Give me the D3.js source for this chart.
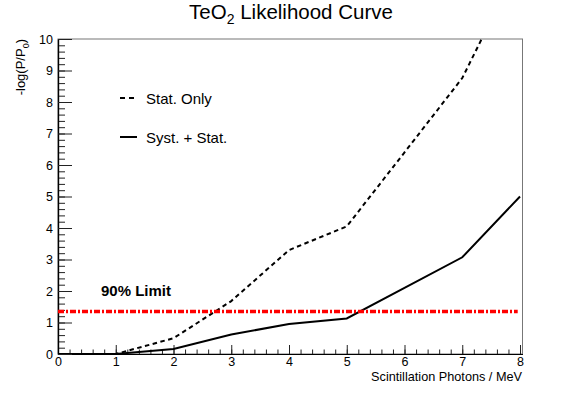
<!DOCTYPE html>
<html>
<head>
<meta charset="utf-8">
<script src="https://cdn.jsdelivr.net/npm/d3@7"></script>
<style>
  body { margin: 0; background: white; }
  text { font-family: "Liberation Sans", Arial, sans-serif; fill: black; }
</style>
</head>
<body>
<div id="chart"></div>
<script>
// scintillation photons / MeV
var photons = [0, 1, 2, 3, 4, 5, 6, 7, 8];
// -log(P/P0), statistical errors only
var statOnly = [0, 0, 0.5, 1.68, 3.3, 4.05, 6.4, 8.76, 12.45];
// -log(P/P0), systematics + statistics
var systStat = [0, 0, 0.16, 0.62, 0.95, 1.13, 2.1, 3.07, 5.0];
var limit90 = 1.35;
var xTicks = [0, 1, 2, 3, 4, 5, 6, 7, 8];
var yTicks = [0, 1, 2, 3, 4, 5, 6, 7, 8, 9, 10];
var legendLabels = ["Stat. Only", "Syst. + Stat."];

var W = 581, H = 394;
var margin = {top: 39, right: 58.5, bottom: 40, left: 58};
var width = W - margin.left - margin.right,
    height = H - margin.top - margin.bottom;

var xScale = d3.scaleLinear().domain([0, 8.043]).range([0, width]),
    yScale = d3.scaleLinear().domain([0, 10]).range([height, 0]);

var svg = d3.select("#chart").append("svg")
    .attr("width", W)
    .attr("height", H);

var g = svg.append("g")
    .attr("transform", "translate(" + margin.left + "," + margin.top + ")");

g.append("clipPath").attr("id", "clip")
  .append("rect")
    .attr("width", width)
    .attr("height", height);

// frame
g.append("rect")
    .attr("width", width)
    .attr("height", height)
    .attr("fill", "none")
    .attr("stroke", "#777")
    .attr("stroke-width", 1);

// minor ticks
var xMinor = d3.range(0, 40.5).map(function(i) { return i / 5; });
var yMinor = d3.range(0, 50.5).map(function(i) { return i / 5; });

var xAxis = d3.axisBottom(xScale).tickValues(xTicks).tickSizeInner(-9).tickSizeOuter(0)
      .tickPadding(3).tickFormat(d3.format("d")),
    xAxisMinor = d3.axisBottom(xScale).tickValues(xMinor).tickSizeInner(-4.5).tickSizeOuter(0)
      .tickFormat(""),
    yAxis = d3.axisLeft(yScale).tickValues(yTicks).tickSizeInner(-14).tickSizeOuter(0)
      .tickPadding(5).tickFormat(d3.format("d")),
    yAxisMinor = d3.axisLeft(yScale).tickValues(yMinor).tickSizeInner(-7).tickSizeOuter(0)
      .tickFormat("");

g.append("g").attr("transform", "translate(0," + height + ")").call(xAxisMinor);
g.append("g").attr("transform", "translate(0," + height + ")").call(xAxis);
g.append("g").call(yAxisMinor);
g.append("g").call(yAxis);

g.selectAll(".tick text").attr("font-size", "12.5px").attr("font-family", "Liberation Sans, Arial, sans-serif");
g.selectAll(".tick line").attr("stroke", "#222");
g.selectAll(".domain").attr("stroke", "black").attr("stroke-width", 1.2);

// curves
var line = d3.line()
    .x(function(d) { return xScale(d[0]); })
    .y(function(d) { return yScale(d[1]); });

var curves = g.append("g").attr("clip-path", "url(#clip)");

curves.append("path")
    .datum(photons.map(function(p, i) { return [p, statOnly[i]]; }))
    .attr("d", line)
    .attr("fill", "none")
    .attr("stroke", "black")
    .attr("stroke-width", 2)
    .attr("stroke-dasharray", "4.5,3.5");

curves.append("path")
    .datum(photons.map(function(p, i) { return [p, systStat[i]]; }))
    .attr("d", line)
    .attr("fill", "none")
    .attr("stroke", "black")
    .attr("stroke-width", 2);

// 90% limit line
g.append("line")
    .attr("x1", xScale(0))
    .attr("x2", xScale(7.96))
    .attr("y1", yScale(limit90))
    .attr("y2", yScale(limit90))
    .attr("stroke", "#ff0000")
    .attr("stroke-width", 3.5)
    .attr("stroke-dasharray", "6,2,2,2");

g.append("text")
    .attr("x", 43)
    .attr("y", 257)
    .attr("font-size", "15px")
    .attr("font-weight", "bold")
    .text("90% Limit");

// legend
var legend = g.selectAll(".legend")
    .data(legendLabels)
    .enter().append("g")
    .attr("transform", function(d, i) { return "translate(62," + (59 + i * 39) + ")"; });

legend.append("line")
    .attr("x1", 0).attr("x2", 17)
    .attr("stroke", "black")
    .attr("stroke-width", 2)
    .attr("stroke-dasharray", function(d, i) { return i == 0 ? "5,4" : null; });

legend.append("text")
    .attr("x", 26)
    .attr("y", 5.5)
    .attr("font-size", "15px")
    .text(function(d) { return d; });

// title
var title = svg.append("text")
    .attr("x", 291)
    .attr("y", 19)
    .attr("text-anchor", "middle")
    .attr("font-size", "20.5px");
title.append("tspan").text("TeO");
title.append("tspan").attr("font-size", "14px").attr("dy", 5).text("2");
title.append("tspan").attr("dy", -5).text(" Likelihood Curve");

// axis titles
svg.append("text")
    .attr("x", 522)
    .attr("y", 381)
    .attr("text-anchor", "end")
    .attr("font-size", "12.7px")
    .text("Scintillation Photons / MeV");

var ylab = svg.append("text")
    .attr("text-anchor", "end")
    .attr("transform", "translate(25,39) rotate(-90)")
    .attr("font-size", "13px");
ylab.append("tspan").text("-log(P/P");
ylab.append("tspan").attr("font-size", "9px").attr("dy", 4).text("0");
ylab.append("tspan").attr("dy", -4).text(")");
</script>
</body>
</html>
